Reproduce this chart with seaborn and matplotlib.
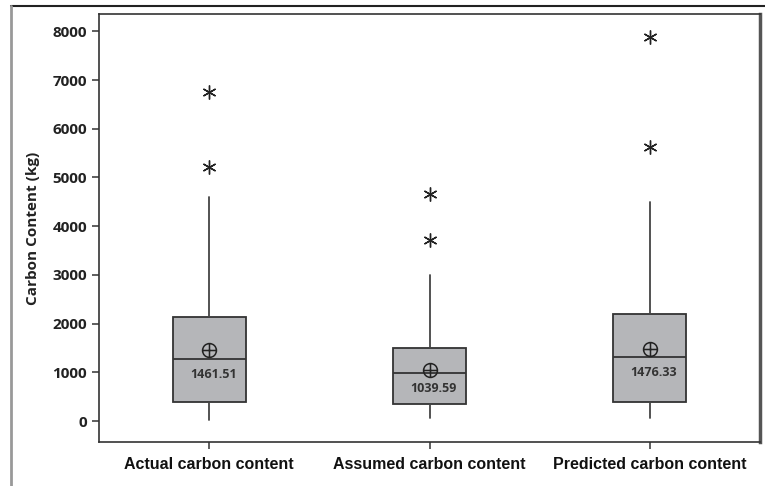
import numpy as np
import seaborn as sns
import matplotlib.pyplot as plt
from matplotlib.lines import Line2D
from matplotlib.path import Path

# summary values
groups = ["Actual carbon content", "Assumed carbon content", "Predicted carbon content"]
whis_low = [20, 55, 55]
q1 = [397, 343, 397]
medians = [1267, 979, 1320]
q3 = [2142, 1505, 2197]
whis_high = [4606, 2998, 4503]
means = [1461.51, 1039.59, 1476.33]
outliers = [[5222, 6762], [3717, 4653], [5632, 7878]]
yticks = [0, 1000, 2000, 3000, 4000, 5000, 6000, 7000, 8000]

sns.set_style("ticks")
plt.rcParams["font.family"] = ["Open Sans", "DejaVu Sans"]

fig = plt.figure(figsize=(7.65, 4.86), dpi=100)
ax = fig.add_axes([99 / 765, 44 / 486, 661 / 765, 428 / 486])

stats = []
for i in range(len(groups)):
    stats.append(
        {
            "label": groups[i],
            "whislo": whis_low[i],
            "q1": q1[i],
            "med": medians[i],
            "q3": q3[i],
            "whishi": whis_high[i],
            "mean": means[i],
            "fliers": outliers[i],
        }
    )

# circle with a cross for the mean symbol
circ = Path.unit_circle()
cross = Path([(-1, 0), (1, 0), (0, -1), (0, 1)],
             [Path.MOVETO, Path.LINETO, Path.MOVETO, Path.LINETO])
mean_marker = Path.make_compound_path(circ, cross)

ax.bxp(
    stats,
    positions=range(len(groups)),
    widths=0.33,
    patch_artist=True,
    showcaps=False,
    showmeans=True,
    boxprops=dict(facecolor="#b5b6b9", edgecolor="#333333", linewidth=1.3),
    medianprops=dict(color="#333333", linewidth=1.3),
    whiskerprops=dict(color="#444444", linewidth=1.3),
    meanprops=dict(marker=mean_marker, markerfacecolor="none",
                   markeredgecolor="#222222", markersize=10, markeredgewidth=1.1),
    flierprops=dict(marker=(6, 2, 0), markeredgecolor="#222222",
                    markersize=10, markeredgewidth=1.0),
)

for i, m in enumerate(means):
    ax.annotate(
        "%.2f" % m,
        xy=(i, medians[i]),
        xytext=(3, -11),
        textcoords="offset points",
        ha="center",
        va="center",
        fontsize=9,
        fontweight="bold",
        color="#333333",
    )

ax.set_xlim(-0.5, 2.5)
ax.set_ylim(-430, 8355)
ax.set_yticks(yticks)
ax.set_yticklabels([str(t) for t in yticks], fontsize=11, fontweight="bold", color="#222222")
ax.set_xticks(range(len(groups)))
ax.set_xticklabels(groups, fontsize=11.5, fontweight="bold", family="Liberation Sans",
                   color="#111111")
ax.set_ylabel("Carbon Content (kg)", fontsize=11, fontweight="bold", color="#222222",
              labelpad=9)
ax.tick_params(axis="both", direction="out", length=5, width=1.1, color="#333333")
ax.tick_params(axis="x", pad=6)

for side in ["left", "bottom", "top"]:
    ax.spines[side].set_color("#333333")
    ax.spines[side].set_linewidth(1.2)
ax.spines["right"].set_color("#555555")
ax.spines["right"].set_linewidth(2.5)

# outer frame of the picture
fig.add_artist(Line2D([11 / 765, 1], [1 - 6 / 486, 1 - 6 / 486],
                      transform=fig.transFigure, color="#222222", lw=1.5))
fig.add_artist(Line2D([11 / 765, 11 / 765], [0, 1 - 6 / 486],
                      transform=fig.transFigure, color="#999999", lw=2))

fig.savefig("out.png", dpi=100)
